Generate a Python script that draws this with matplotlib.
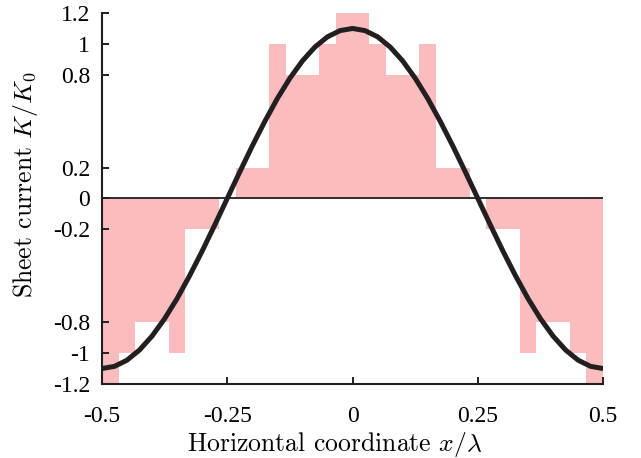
import numpy as np
import matplotlib
matplotlib.use("Agg")
import matplotlib.pyplot as plt

# quantized sheet current, 30 equal segments across one period
steps = [-1.2, -1, -0.8, -0.8, -1, -0.2, -0.2, 0, 0.2, 0.2,
         1, 0.8, 0.8, 1, 1.2, 1.2, 1, 0.8, 0.8, 1,
         0.2, 0.2, 0, -0.2, -0.2, -1, -0.8, -0.8, -1, -1.2]

# ideal current, x step 0.025 from -0.5 to 0.5
curve_x = [k * 0.025 - 0.5 for k in range(41)]
curve_k = [-1.1, -1.086, -1.046, -0.980, -0.890, -0.778, -0.647, -0.499, -0.340, -0.172,
           0, 0.172, 0.340, 0.499, 0.647, 0.778, 0.890, 0.980, 1.046, 1.086,
           1.1,
           1.086, 1.046, 0.980, 0.890, 0.778, 0.647, 0.499, 0.340, 0.172, 0,
           -0.172, -0.340, -0.499, -0.647, -0.778, -0.890, -0.980, -1.046, -1.086, -1.1]

xticks = [-0.5, -0.25, 0, 0.25, 0.5]
xticklabels = ["-0.5", "-0.25", "0", "0.25", "0.5"]
yticks = [-1.2, -1, -0.8, -0.2, 0, 0.2, 0.8, 1, 1.2]
yticklabels = ["-1.2", "-1", "-0.8", "-0.2", "0", "0.2", "0.8", "1", "1.2"]

plt.rcParams["mathtext.fontset"] = "cm"
plt.rcParams["axes.unicode_minus"] = False

fig = plt.figure(figsize=(6.41, 4.58), dpi=100)
ax = fig.add_axes([0.159, 0.1616, 0.782, 0.810])

n = len(steps)
w = 1.0 / n
centers = [-0.5 + w * (i + 0.5) for i in range(n)]
ax.bar(centers, steps, width=w, color="#fbbcbe", linewidth=0, zorder=1)
ax.axhline(0, color="#231f20", lw=1.3, zorder=2)
ax.plot(curve_x, curve_k, color="#231f20", lw=3.6, solid_capstyle="butt", zorder=3)

ax.set_xlim(-0.5, 0.5)
ax.set_ylim(-1.2, 1.2)
ax.set_xticks(xticks)
ax.set_xticklabels(xticklabels, family="Liberation Serif", fontsize=17)
ax.set_yticks(yticks)
ax.set_yticklabels(yticklabels, family="Liberation Serif", fontsize=17)
ax.tick_params(direction="in", length=5, width=1.4, color="#231f20")
ax.tick_params(axis="x", pad=15.5)
ax.tick_params(axis="y", pad=8.6)

for s in ["top", "right"]:
    ax.spines[s].set_visible(False)
for s in ["left", "bottom"]:
    ax.spines[s].set_linewidth(1.5)
    ax.spines[s].set_color("#231f20")

ax.set_xlabel(r"Horizontal coordinate $x/\lambda$", family="cmr10", fontsize=18.5)
ax.set_ylabel("Sheet current $K/K_0$", family="cmr10", fontsize=18.5)
ax.xaxis.set_label_coords(0.464, -0.124)
ax.yaxis.set_label_coords(-0.1238, 0.536)

fig.savefig("out.png", dpi=100)
